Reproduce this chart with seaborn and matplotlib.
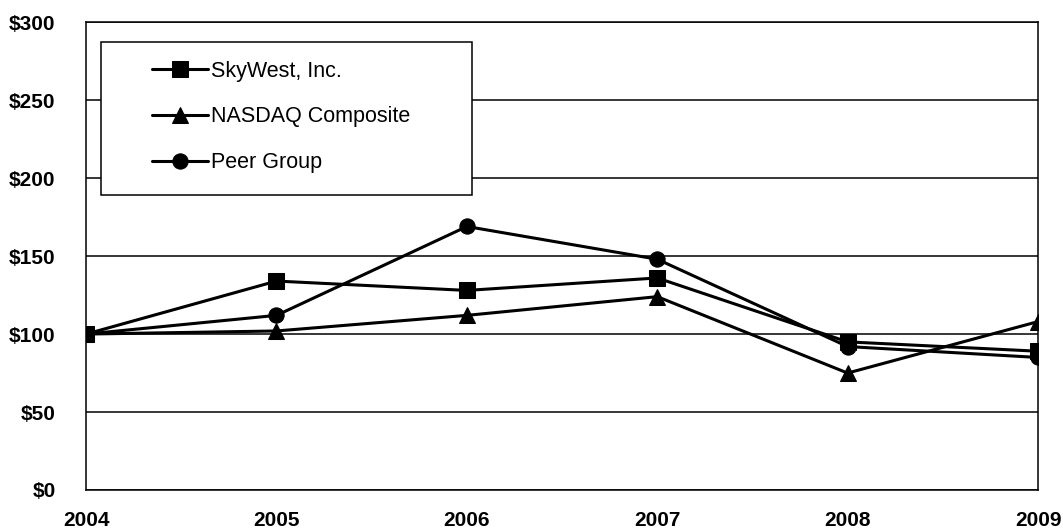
import seaborn as sns
import matplotlib.pyplot as plt
from matplotlib.patches import Rectangle
import pandas as pd

# --- Data ---
years = [2004, 2005, 2006, 2007, 2008, 2009]
skywest = [100, 134, 128, 136, 95, 89]
nasdaq = [100, 102, 112, 124, 75, 108]
peer = [100, 112, 169, 148, 92, 85]
series_names = ["SkyWest, Inc.", "NASDAQ Composite", "Peer Group"]

data = pd.DataFrame({
    "Year": years * 3,
    "Value": skywest + nasdaq + peer,
    "Series": [s for s in series_names for _ in years],
})

# --- Styling ---
sns.set_style("white")
plt.rcParams["font.family"] = ["Liberation Sans", "DejaVu Sans"]
plt.rcParams["text.color"] = "black"
plt.rcParams["xtick.color"] = "black"
plt.rcParams["ytick.color"] = "black"

fig = plt.figure(figsize=(10.63, 5.30), dpi=100)
ax = fig.add_axes([0.081, 0.0755, 0.8955, 0.8825])

ax = sns.lineplot(
    data=data, x="Year", y="Value", hue="Series", style="Series",
    markers=["s", "^", "o"], dashes=False, palette=["black"] * 3,
    linewidth=2.2, markersize=11, markeredgecolor="black", ax=ax,
)

# axes & grid
ax.set_xlim(2004, 2009)
ax.set_ylim(0, 300)
ax.set_yticks(range(0, 301, 50))
ax.set_yticklabels([f"${v}" for v in range(0, 301, 50)])
ax.set_xticks(years)
ax.set_xticklabels([str(y) for y in years])
ax.yaxis.grid(True, color="black", linewidth=1.1)
ax.set_axisbelow(True)
for sp in ax.spines.values():
    sp.set_color("black")
    sp.set_linewidth(1.1)
ax.tick_params(axis="x", direction="out", length=8, width=1.1, color="black",
               pad=7, labelsize=15)
ax.tick_params(axis="y", length=0, pad=22, labelsize=15)
for lbl in ax.get_xticklabels() + ax.get_yticklabels():
    lbl.set_fontweight("bold")
    lbl.set_color("black")
ax.set_xlabel("")
ax.set_ylabel("")

# legend box (drawn separately so it can be wider than its contents)
box = Rectangle((0.0158, 0.630), 0.3897, 0.327, transform=ax.transAxes,
                facecolor="white", edgecolor="black", linewidth=1.1, zorder=5)
ax.add_patch(box)
leg = ax.legend(
    loc="upper left", bbox_to_anchor=(0.0693, 0.918), frameon=False,
    fontsize=15.5, handlelength=2.6, labelspacing=1.15, borderpad=0,
    borderaxespad=0, handletextpad=0.15, title=None,
)
leg.set_zorder(6)
for txt in leg.get_texts():
    txt.set_color("black")

plt.savefig("out.png", dpi=100)
plt.close()
